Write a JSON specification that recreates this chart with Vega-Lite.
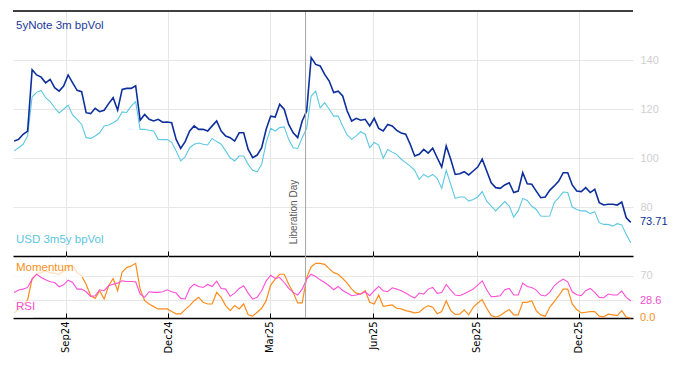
{
"$schema": "https://vega.github.io/schema/vega-lite/v6.json",
"padding": {"left": 10, "top": 10, "right": 5, "bottom": 5},
"autosize": {"type": "pad"},
"spacing": 0,
"bounds": "flush",
"config": {"view": {"stroke": null}, "font": "Liberation Sans", "axis": {"gridColor": "#e6e6e6", "gridWidth": 1}},
"datasets": {"main": [
{"date":"2024-07-17","a":106.9,"b":102.9,"m":8,"r":42.5},
{"date":"2024-07-21","a":107.6,"b":104.2,"m":15,"r":46.4},
{"date":"2024-07-25","a":109.7,"b":105.6,"m":22,"r":48},
{"date":"2024-07-29","a":111,"b":109,"m":30,"r":50.8},
{"date":"2024-08-02","a":136,"b":125,"m":65,"r":64.5},
{"date":"2024-08-06","a":133.9,"b":126.8,"m":74,"r":72.7},
{"date":"2024-08-10","a":133,"b":127.6,"m":75.4,"r":67.2},
{"date":"2024-08-14","a":130.7,"b":124.6,"m":78.2,"r":63.4},
{"date":"2024-08-18","a":132.1,"b":123,"m":75.4,"r":60.1},
{"date":"2024-08-22","a":128.7,"b":120.5,"m":74.3,"r":59},
{"date":"2024-08-26","a":127.3,"b":118.4,"m":72.7,"r":51.9},
{"date":"2024-08-30","a":129.4,"b":119.9,"m":78.2,"r":55.1},
{"date":"2024-09-03","a":133.9,"b":121.6,"m":86.4,"r":62.8},
{"date":"2024-09-07","a":130.7,"b":117.6,"m":87.5,"r":59},
{"date":"2024-09-11","a":127.6,"b":115.8,"m":75.4,"r":48},
{"date":"2024-09-15","a":127.1,"b":113.7,"m":70,"r":48},
{"date":"2024-09-19","a":118.5,"b":108.3,"m":56.2,"r":43.6},
{"date":"2024-09-23","a":118.1,"b":108,"m":37,"r":36},
{"date":"2024-09-27","a":120.3,"b":109,"m":32.6,"r":37},
{"date":"2024-10-01","a":118.9,"b":110.3,"m":45.3,"r":46.9},
{"date":"2024-10-05","a":119.5,"b":113.1,"m":31.6,"r":45.3},
{"date":"2024-10-09","a":122.2,"b":113.5,"m":53.5,"r":53.5},
{"date":"2024-10-13","a":124.6,"b":114.4,"m":65.6,"r":56.2},
{"date":"2024-10-17","a":119.5,"b":115.6,"m":45.3,"r":57.9},
{"date":"2024-10-21","a":128,"b":118.8,"m":76.5,"r":61.7},
{"date":"2024-10-25","a":128.4,"b":118.6,"m":83.7,"r":60.6},
{"date":"2024-10-29","a":128.4,"b":121.2,"m":86.4,"r":60.6},
{"date":"2024-11-02","a":129.5,"b":123,"m":90.8,"r":60.1},
{"date":"2024-11-06","a":115.4,"b":111.7,"m":48,"r":39.8},
{"date":"2024-11-10","a":117.8,"b":111.7,"m":28.8,"r":34.3},
{"date":"2024-11-14","a":115.8,"b":111.3,"m":23.3,"r":43.6},
{"date":"2024-11-18","a":115.1,"b":111,"m":18.9,"r":42.5},
{"date":"2024-11-22","a":115.8,"b":107.6,"m":15.1,"r":42.5},
{"date":"2024-11-26","a":114.6,"b":107.5,"m":15.1,"r":43.6},
{"date":"2024-11-30","a":114.7,"b":107.5,"m":15.1,"r":46.9},
{"date":"2024-12-04","a":114.4,"b":106.4,"m":10.7,"r":43.6},
{"date":"2024-12-08","a":107.6,"b":102.9,"m":6.9,"r":41.4},
{"date":"2024-12-12","a":103.9,"b":98.8,"m":6.9,"r":32.6},
{"date":"2024-12-16","a":106.7,"b":100.4,"m":14,"r":31.6},
{"date":"2024-12-20","a":111,"b":104.2,"m":20.6,"r":49.1},
{"date":"2024-12-24","a":113.1,"b":105.6,"m":28.8,"r":56.2},
{"date":"2024-12-28","a":111.7,"b":106.1,"m":34.3,"r":52.4},
{"date":"2025-01-01","a":111.7,"b":105.6,"m":26.1,"r":50.8},
{"date":"2025-01-05","a":111,"b":105.3,"m":23.3,"r":55.7},
{"date":"2025-01-09","a":113.1,"b":108,"m":23.3,"r":52.4},
{"date":"2025-01-13","a":115.1,"b":106.7,"m":42.5,"r":61.2},
{"date":"2025-01-17","a":111,"b":105.6,"m":34.3,"r":49.1},
{"date":"2025-01-21","a":109,"b":102.9,"m":20.6,"r":48},
{"date":"2025-01-25","a":108.3,"b":100.1,"m":12.3,"r":36},
{"date":"2025-01-29","a":106.9,"b":98.8,"m":20.6,"r":41.4},
{"date":"2025-02-02","a":110.3,"b":100.8,"m":15.1,"r":49.1},
{"date":"2025-02-06","a":110.3,"b":100.8,"m":23.3,"r":53.5},
{"date":"2025-02-10","a":103.5,"b":97.4,"m":5.2,"r":41.4},
{"date":"2025-02-14","a":100.1,"b":95,"m":3,"r":31.6},
{"date":"2025-02-18","a":101.2,"b":94.4,"m":9.6,"r":34.3},
{"date":"2025-02-22","a":104.2,"b":97.4,"m":16.2,"r":45.3},
{"date":"2025-02-26","a":111.7,"b":106.3,"m":28.8,"r":61.7},
{"date":"2025-03-02","a":117.1,"b":112.1,"m":54.6,"r":71.1},
{"date":"2025-03-06","a":116.7,"b":111,"m":64.5,"r":65.6},
{"date":"2025-03-10","a":121.9,"b":112.4,"m":72.7,"r":67.2},
{"date":"2025-03-14","a":119.9,"b":112.7,"m":72.7,"r":59},
{"date":"2025-03-18","a":113.7,"b":107.6,"m":56.2,"r":49.1},
{"date":"2025-03-22","a":110.3,"b":104.2,"m":42.5,"r":42.5},
{"date":"2025-03-26","a":108.3,"b":103.9,"m":25,"r":38.1},
{"date":"2025-03-30","a":115.1,"b":108.3,"m":25,"r":48},
{"date":"2025-04-03","a":119.2,"b":112.1,"m":67.2,"r":64.5},
{"date":"2025-04-07","a":141,"b":125.3,"m":85.3,"r":72.7},
{"date":"2025-04-11","a":138.2,"b":127.3,"m":90.8,"r":68.9},
{"date":"2025-04-15","a":137.6,"b":120.5,"m":90.8,"r":63.4},
{"date":"2025-04-19","a":134.1,"b":122.6,"m":89.2,"r":59},
{"date":"2025-04-23","a":131.4,"b":119.9,"m":82,"r":53.5},
{"date":"2025-04-27","a":126.7,"b":117.1,"m":75.4,"r":46.9},
{"date":"2025-05-01","a":127.3,"b":117.1,"m":72.7,"r":52.4},
{"date":"2025-05-05","a":125.3,"b":113.1,"m":65.6,"r":45.8},
{"date":"2025-05-09","a":119.2,"b":109.4,"m":57.9,"r":41.4},
{"date":"2025-05-13","a":115.1,"b":107.6,"m":48,"r":37},
{"date":"2025-05-17","a":116.2,"b":109,"m":41.4,"r":38.1},
{"date":"2025-05-21","a":115.4,"b":110.7,"m":39.8,"r":39.8},
{"date":"2025-05-25","a":115.8,"b":109.7,"m":45.3,"r":43.6},
{"date":"2025-05-29","a":113.1,"b":104.2,"m":26.1,"r":37},
{"date":"2025-06-02","a":116.2,"b":106.3,"m":23.3,"r":45.3},
{"date":"2025-06-06","a":112.1,"b":105.3,"m":38.1,"r":52.4},
{"date":"2025-06-10","a":111,"b":99.9,"m":19.5,"r":45.3},
{"date":"2025-06-14","a":113.7,"b":103.5,"m":20.6,"r":43.6},
{"date":"2025-06-18","a":113.1,"b":102.4,"m":21.7,"r":50.2},
{"date":"2025-06-22","a":111.3,"b":101.5,"m":16.2,"r":48},
{"date":"2025-06-26","a":110.2,"b":99.5,"m":15.1,"r":45.3},
{"date":"2025-06-30","a":109.7,"b":98.1,"m":12.3,"r":41.4},
{"date":"2025-07-04","a":105.6,"b":96.7,"m":10.7,"r":37},
{"date":"2025-07-08","a":100.8,"b":95,"m":8.5,"r":33.2},
{"date":"2025-07-12","a":101.5,"b":91.3,"m":9.6,"r":41.4},
{"date":"2025-07-16","a":103.5,"b":93.3,"m":16.2,"r":39.8},
{"date":"2025-07-20","a":102,"b":92.2,"m":20.6,"r":48},
{"date":"2025-07-24","a":104,"b":93.3,"m":17.8,"r":50.8},
{"date":"2025-07-28","a":100.1,"b":91.7,"m":6.9,"r":40.9},
{"date":"2025-08-01","a":96.3,"b":87.6,"m":10.7,"r":42.5},
{"date":"2025-08-05","a":104.9,"b":95,"m":28.8,"r":55.7},
{"date":"2025-08-09","a":99.5,"b":89.3,"m":12.3,"r":46.4},
{"date":"2025-08-13","a":93.3,"b":83.5,"m":5.8,"r":38.1},
{"date":"2025-08-17","a":93.6,"b":84.1,"m":6.3,"r":37},
{"date":"2025-08-21","a":94.4,"b":84.1,"m":13.4,"r":40.3},
{"date":"2025-08-25","a":93.1,"b":82.4,"m":5.2,"r":44.2},
{"date":"2025-08-29","a":94.7,"b":83.1,"m":17.8,"r":48},
{"date":"2025-09-02","a":96.3,"b":84.1,"m":25,"r":54.6},
{"date":"2025-09-06","a":99.5,"b":86.3,"m":30.5,"r":61.7},
{"date":"2025-09-10","a":94.7,"b":82.4,"m":16.2,"r":46.9},
{"date":"2025-09-14","a":89.9,"b":80.4,"m":4.1,"r":35.4},
{"date":"2025-09-18","a":87.9,"b":78.4,"m":1.4,"r":36},
{"date":"2025-09-22","a":87.6,"b":80.4,"m":4.1,"r":37},
{"date":"2025-09-26","a":89,"b":82.2,"m":9.6,"r":46.9},
{"date":"2025-09-30","a":89.9,"b":80.4,"m":14,"r":49.1},
{"date":"2025-10-04","a":85.9,"b":75.9,"m":5.2,"r":38.1},
{"date":"2025-10-08","a":86.5,"b":78.4,"m":5.2,"r":38.1},
{"date":"2025-10-12","a":94,"b":83.5,"m":26.1,"r":57.9},
{"date":"2025-10-16","a":89.5,"b":82.7,"m":26.1,"r":52.4},
{"date":"2025-10-20","a":89.3,"b":80.4,"m":28.8,"r":50.8},
{"date":"2025-10-24","a":86.5,"b":79,"m":12.3,"r":46.4},
{"date":"2025-10-28","a":83.8,"b":76.3,"m":5.2,"r":38.1},
{"date":"2025-11-01","a":84.1,"b":76.2,"m":3,"r":36.5},
{"date":"2025-11-05","a":86.8,"b":76.3,"m":17.8,"r":42.5},
{"date":"2025-11-09","a":88.6,"b":81.8,"m":27.2,"r":53.5},
{"date":"2025-11-13","a":90.6,"b":83.8,"m":37,"r":60.1},
{"date":"2025-11-17","a":94,"b":86.1,"m":48,"r":64.5},
{"date":"2025-11-21","a":94,"b":85.9,"m":48,"r":60.1},
{"date":"2025-11-25","a":89,"b":80,"m":23.3,"r":43.6},
{"date":"2025-11-29","a":86.5,"b":79,"m":14,"r":38.7},
{"date":"2025-12-03","a":86.3,"b":78.4,"m":8.5,"r":37},
{"date":"2025-12-07","a":87.9,"b":78.4,"m":9.6,"r":45.3},
{"date":"2025-12-11","a":85.9,"b":77.3,"m":10.7,"r":49.1},
{"date":"2025-12-15","a":87.2,"b":78.1,"m":10.7,"r":42.5},
{"date":"2025-12-19","a":81.8,"b":73.6,"m":3,"r":34.3},
{"date":"2025-12-23","a":80.8,"b":72.9,"m":1.9,"r":33.7},
{"date":"2025-12-27","a":81.1,"b":72.9,"m":6.3,"r":39.8},
{"date":"2025-12-31","a":81.1,"b":72.2,"m":5.2,"r":38.1},
{"date":"2026-01-04","a":80.8,"b":73.2,"m":4.1,"r":38.1},
{"date":"2026-01-08","a":82,"b":72.7,"m":12.3,"r":44.7},
{"date":"2026-01-12","a":75.6,"b":68.8,"m":1.4,"r":34.3},
{"date":"2026-01-16","a":73.71,"b":65.4,"m":0,"r":28.6}
]},
"vconcat": [
{
 "width": 620, "height": 245,
 "layer": [
  {"data": {"name": "main"}, "mark": {"type": "line", "color": "#5cc8e2", "strokeWidth": 1.1},
   "encoding": {
    "x": {"field": "date", "type": "temporal",
      "scale": {"type": "utc", "domain": [{"year": 2024, "month": 7, "date": 16, "utc": true}, {"year": 2026, "month": 1, "date": 18, "utc": true}]},
      "axis": {"orient": "bottom", "title": null, "labels": false, "grid": true, "tickSize": -5, "tickColor": "#000", "domainColor": "#000", "domainWidth": 1.5,
        "values": [{"year": 2024, "month": 9, "date": 1, "utc": true}, {"year": 2024, "month": 12, "date": 1, "utc": true}, {"year": 2025, "month": 3, "date": 1, "utc": true}, {"year": 2025, "month": 6, "date": 1, "utc": true}, {"year": 2025, "month": 9, "date": 1, "utc": true}, {"year": 2025, "month": 12, "date": 1, "utc": true}]}},
    "y": {"field": "b", "type": "quantitative", "scale": {"domain": [60, 160], "nice": false, "zero": false},
      "axis": {"orient": "right", "title": null, "values": [80, 100, 120, 140], "grid": true, "domain": false, "ticks": false, "labelColor": "#cfcfcf", "labelFontSize": 11, "labelPadding": 7, "labelFont": "Liberation Sans"}}
   }},
  {"data": {"name": "main"}, "mark": {"type": "line", "color": "#0c2f9c", "strokeWidth": 1.6},
   "encoding": {"x": {"field": "date", "type": "temporal", "axis": {"orient": "bottom"}}, "y": {"field": "a", "type": "quantitative", "axis": {"orient": "right"}}}},
  {"data": {"values": [{}]}, "mark": {"type": "rule", "color": "#a6a6a6", "strokeWidth": 1},
   "encoding": {"x": {"datum": {"year": 2025, "month": 4, "date": 2, "utc": true}, "type": "temporal", "axis": {"orient": "bottom"}}}},
  {"data": {"values": [{}]}, "mark": {"type": "rule", "color": "#000", "strokeWidth": 1.5},
   "encoding": {"y": {"datum": 160, "axis": {"orient": "right"}}}},
  {"data": {"values": [{}]}, "mark": {"type": "text", "text": "5yNote 3m bpVol", "align": "left", "baseline": "middle", "dx": 3, "fontSize": 11.5, "color": "#1a3a9a"},
   "encoding": {"x": {"datum": {"year": 2024, "month": 7, "date": 16, "utc": true}, "type": "temporal", "axis": {"orient": "bottom"}}, "y": {"datum": 153.9, "axis": {"orient": "right"}}}},
  {"data": {"values": [{}]}, "mark": {"type": "text", "text": "USD 3m5y bpVol", "align": "left", "baseline": "middle", "dx": 3, "fontSize": 11.5, "color": "#5bc5df"},
   "encoding": {"x": {"datum": {"year": 2024, "month": 7, "date": 16, "utc": true}, "type": "temporal", "axis": {"orient": "bottom"}}, "y": {"datum": 66.5, "axis": {"orient": "right"}}}},
  {"data": {"values": [{}]}, "mark": {"type": "text", "text": "73.71", "align": "left", "baseline": "middle", "dx": 7, "fontSize": 11, "color": "#0c2f9c"},
   "encoding": {"x": {"datum": {"year": 2026, "month": 1, "date": 18, "utc": true}, "type": "temporal", "axis": {"orient": "bottom"}}, "y": {"datum": 73.71, "axis": {"orient": "right"}}}},
  {"data": {"values": [{}]}, "mark": {"type": "text", "text": "Liberation Day", "align": "left", "baseline": "alphabetic", "angle": 270, "dy": -9, "fontSize": 10, "color": "#595959"},
   "encoding": {"x": {"datum": {"year": 2025, "month": 4, "date": 2, "utc": true}, "type": "temporal", "axis": {"orient": "bottom"}}, "y": {"datum": 64.8, "axis": {"orient": "right"}}}}
 ]
},
{
 "width": 620, "height": 62,
 "layer": [
  {"data": {"name": "main"}, "mark": {"type": "line", "color": "#ff8c1a", "strokeWidth": 1.2},
   "encoding": {
    "x": {"field": "date", "type": "temporal",
      "scale": {"type": "utc", "domain": [{"year": 2024, "month": 7, "date": 16, "utc": true}, {"year": 2026, "month": 1, "date": 18, "utc": true}]},
      "axis": {"orient": "bottom", "title": null, "format": "%b%y", "labelAngle": -90, "labelFont": "DejaVu Sans", "labelFontSize": 10, "labelColor": "#000", "labelPadding": 8, "grid": true, "tickSize": -5, "tickColor": "#000", "domainColor": "#000", "domainWidth": 1.5,
        "values": [{"year": 2024, "month": 9, "date": 1, "utc": true}, {"year": 2024, "month": 12, "date": 1, "utc": true}, {"year": 2025, "month": 3, "date": 1, "utc": true}, {"year": 2025, "month": 6, "date": 1, "utc": true}, {"year": 2025, "month": 9, "date": 1, "utc": true}, {"year": 2025, "month": 12, "date": 1, "utc": true}]}},
    "y": {"field": "m", "type": "quantitative", "scale": {"domain": [0, 103], "nice": false, "zero": false},
      "axis": {"orient": "right", "title": null, "values": [30, 70], "grid": true, "domain": false, "ticks": false, "labelExpr": "datum.value == 70 ? '70' : ''", "labelColor": "#cfcfcf", "labelFontSize": 11, "labelPadding": 7, "labelFont": "Liberation Sans"}}
   }},
  {"data": {"values": [{}]}, "mark": {"type": "rect", "color": "#ffffff", "opacity": 0.7},
   "encoding": {"x": {"datum": {"year": 2024, "month": 7, "date": 16, "utc": true}, "type": "temporal", "axis": {"orient": "bottom"}}, "x2": {"datum": {"year": 2024, "month": 9, "date": 17, "utc": true}}, "y": {"datum": 68.3, "axis": {"orient": "right"}}, "y2": {"datum": 94.6}}},
  {"data": {"values": [{}]}, "mark": {"type": "rect", "color": "#ffffff", "opacity": 0.7},
   "encoding": {"x": {"datum": {"year": 2024, "month": 7, "date": 16, "utc": true}, "type": "temporal", "axis": {"orient": "bottom"}}, "x2": {"datum": {"year": 2024, "month": 8, "date": 3, "utc": true}}, "y": {"datum": 0.8, "axis": {"orient": "right"}}, "y2": {"datum": 28.8}}},
  {"data": {"name": "main"}, "mark": {"type": "line", "color": "#ff4fd8", "strokeWidth": 1.1},
   "encoding": {"x": {"field": "date", "type": "temporal", "axis": {"orient": "bottom"}}, "y": {"field": "r", "type": "quantitative", "axis": {"orient": "right"}}}},
  {"data": {"values": [{}]}, "mark": {"type": "rule", "color": "#a6a6a6", "strokeWidth": 1},
   "encoding": {"x": {"datum": {"year": 2025, "month": 4, "date": 2, "utc": true}, "type": "temporal", "axis": {"orient": "bottom"}}}},
  {"data": {"values": [{}]}, "mark": {"type": "text", "text": "Momentum", "align": "left", "baseline": "middle", "dx": 3, "fontSize": 11.5, "color": "#f7901e"},
   "encoding": {"x": {"datum": {"year": 2024, "month": 7, "date": 16, "utc": true}, "type": "temporal", "axis": {"orient": "bottom"}}, "y": {"datum": 82.3, "axis": {"orient": "right"}}}},
  {"data": {"values": [{}]}, "mark": {"type": "text", "text": "RSI", "align": "left", "baseline": "middle", "dx": 3, "fontSize": 11.5, "color": "#f04fd0"},
   "encoding": {"x": {"datum": {"year": 2024, "month": 7, "date": 16, "utc": true}, "type": "temporal", "axis": {"orient": "bottom"}}, "y": {"datum": 18.9, "axis": {"orient": "right"}}}},
  {"data": {"values": [{}]}, "mark": {"type": "text", "text": "28.6", "align": "left", "baseline": "middle", "dx": 7, "fontSize": 11, "color": "#f04fd0"},
   "encoding": {"x": {"datum": {"year": 2026, "month": 1, "date": 18, "utc": true}, "type": "temporal", "axis": {"orient": "bottom"}}, "y": {"datum": 28.6, "axis": {"orient": "right"}}}},
  {"data": {"values": [{}]}, "mark": {"type": "text", "text": "0.0", "align": "left", "baseline": "middle", "dx": 7, "fontSize": 11, "color": "#f7901e"},
   "encoding": {"x": {"datum": {"year": 2026, "month": 1, "date": 18, "utc": true}, "type": "temporal", "axis": {"orient": "bottom"}}, "y": {"datum": 0, "axis": {"orient": "right"}}}}
 ]
}
]
}
